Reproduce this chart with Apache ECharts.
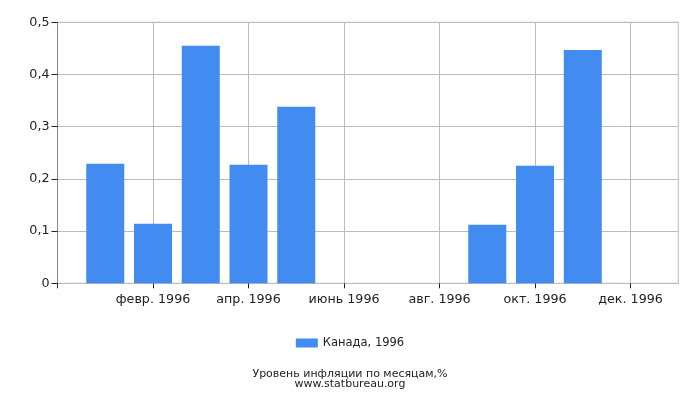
<!DOCTYPE html>
<html>
<head>
<meta charset="utf-8">
<script src="https://cdn.jsdelivr.net/npm/echarts@6/dist/echarts.min.js"></script>
<style>
  html, body { margin: 0; padding: 0; background: #fff; }
  #chart { width: 700px; height: 400px; }
</style>
</head>
<body>
<div id="chart"></div>
<script>
/** Инфляция в Канаде по месяцам, 1996 */

// пустые края слева и справа дают отступ в полмесяца как на оригинале
const MONTHS = ['', 'янв. 1996', 'февр. 1996', 'март 1996', 'апр. 1996', 'май 1996', 'июнь 1996',
    'июль 1996', 'авг. 1996', 'сент. 1996', 'окт. 1996', 'нояб. 1996', 'дек. 1996', '']
const CANADA_1996 = [null, 0.229, 0.114, 0.455, 0.227, 0.338, 0, 0, 0, 0.112, 0.225, 0.447, 0, null]
const Y_TICKS = [0, 0.1, 0.2, 0.3, 0.4, 0.5]

const FONT = 'DejaVu Sans'

function everyOther(index) {
    return index % 2 === 0 && index < MONTHS.length - 1
}

let chart = echarts.init(document.getElementById('chart'))

chart.setOption({
    animation: false,
    textStyle: { fontFamily: FONT },
    title: {
        text: 'Уровень инфляции по месяцам,%\nwww.statbureau.org',
        left: 'center',
        top: 364,
        textStyle: { fontFamily: FONT, fontSize: 11, fontWeight: 'normal', color: '#222', lineHeight: 10 }
    },
    legend: {
        data: ['Канада, 1996'],
        top: 332,
        left: 'center',
        icon: 'rect',
        itemWidth: 22,
        itemHeight: 9,
        itemGap: 5,
        textStyle: { fontFamily: FONT, fontSize: 11.5, color: '#222' }
    },
    grid: {
        left: 57.5,
        right: 21.7,
        top: 22.3,
        bottom: 116.7,
        show: true,
        borderColor: '#bbb',
        borderWidth: 1
    },
    xAxis: {
        type: 'category',
        data: MONTHS,
        boundaryGap: false,
        axisLine: { lineStyle: { color: '#bbb' } },
        axisTick: { interval: everyOther, length: 5, lineStyle: { color: '#222' } },
        axisLabel: {
            interval: everyOther,
            color: '#222',
            fontSize: 12.7,
            margin: 10
        },
        splitLine: { show: true, interval: everyOther, lineStyle: { color: '#bbb' } }
    },
    yAxis: {
        type: 'value',
        min: Y_TICKS[0],
        max: Y_TICKS[Y_TICKS.length - 1],
        interval: 0.1,
        axisLine: { show: true, lineStyle: { color: '#888' } },
        axisTick: { show: true, length: 6, lineStyle: { color: '#222' } },
        axisLabel: {
            color: '#222',
            fontSize: 12.7,
            margin: 8,
            formatter: v => String(+v.toFixed(1)).replace('.', ',')
        },
        splitLine: { lineStyle: { color: '#bbb' } }
    },
    series: [{
        name: 'Канада, 1996',
        type: 'bar',
        data: CANADA_1996,
        barWidth: 38,
        itemStyle: { color: '#428bf0' }
    }]
})
</script>
</body>
</html>
